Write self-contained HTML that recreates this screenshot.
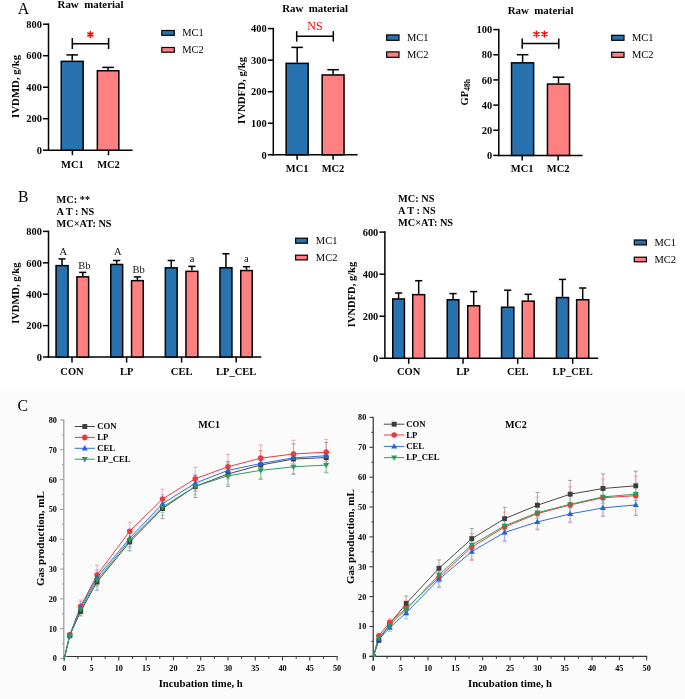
<!DOCTYPE html>
<html><head><meta charset="utf-8"><style>
html,body{margin:0;padding:0;background:#fff;width:685px;height:699px;overflow:hidden}
svg{display:block;will-change:transform;font-family:"Liberation Serif", serif}
</style></head><body>
<svg width="685" height="699" viewBox="0 0 685 699">
<text x="17.80" y="13.90" font-size="15.8" text-anchor="start" fill="#000" >A</text>
<text x="90.50" y="8.00" font-size="10.9" font-weight="bold" text-anchor="middle" fill="#000" >Raw&#160;&#160;material</text>
<line x1="48.50" y1="23.45" x2="48.50" y2="150.95" stroke="#000" stroke-width="1.5" />
<line x1="47.75" y1="150.20" x2="132.60" y2="150.20" stroke="#000" stroke-width="1.5" />
<line x1="43.00" y1="150.20" x2="48.50" y2="150.20" stroke="#000" stroke-width="1.5" />
<text x="41.90" y="153.90" font-size="10.4" font-weight="bold" text-anchor="end" fill="#000" >0</text>
<line x1="43.00" y1="118.70" x2="48.50" y2="118.70" stroke="#000" stroke-width="1.5" />
<text x="41.90" y="122.40" font-size="10.4" font-weight="bold" text-anchor="end" fill="#000" >200</text>
<line x1="43.00" y1="87.20" x2="48.50" y2="87.20" stroke="#000" stroke-width="1.5" />
<text x="41.90" y="90.90" font-size="10.4" font-weight="bold" text-anchor="end" fill="#000" >400</text>
<line x1="43.00" y1="55.70" x2="48.50" y2="55.70" stroke="#000" stroke-width="1.5" />
<text x="41.90" y="59.40" font-size="10.4" font-weight="bold" text-anchor="end" fill="#000" >600</text>
<line x1="43.00" y1="24.20" x2="48.50" y2="24.20" stroke="#000" stroke-width="1.5" />
<text x="41.90" y="27.90" font-size="10.4" font-weight="bold" text-anchor="end" fill="#000" >800</text>
<line x1="72.40" y1="150.20" x2="72.40" y2="155.20" stroke="#000" stroke-width="1.5" />
<line x1="108.50" y1="150.20" x2="108.50" y2="155.20" stroke="#000" stroke-width="1.5" />
<line x1="72.20" y1="60.60" x2="72.20" y2="54.90" stroke="#000" stroke-width="1.5" />
<line x1="66.40" y1="54.90" x2="78.00" y2="54.90" stroke="#000" stroke-width="1.5" />
<rect x="61.25" y="61.35" width="21.90" height="88.85" fill="#2872b0" stroke="#000" stroke-width="1.5"/>
<line x1="108.10" y1="70.00" x2="108.10" y2="67.40" stroke="#000" stroke-width="1.5" />
<line x1="102.30" y1="67.40" x2="113.90" y2="67.40" stroke="#000" stroke-width="1.5" />
<rect x="97.35" y="70.75" width="21.50" height="79.45" fill="#ff8080" stroke="#000" stroke-width="1.5"/>
<text x="72.40" y="167.50" font-size="10.5" font-weight="bold" text-anchor="middle" fill="#000" >MC1</text>
<text x="108.50" y="167.50" font-size="10.5" font-weight="bold" text-anchor="middle" fill="#000" >MC2</text>
<text x="0" y="0" font-size="10.8" font-weight="bold" text-anchor="middle" transform="translate(19.00,86.40) rotate(-90)">IVDMD, g/kg</text>
<line x1="72.30" y1="43.80" x2="108.60" y2="43.80" stroke="#000" stroke-width="1.5" />
<line x1="72.30" y1="38.00" x2="72.30" y2="49.00" stroke="#000" stroke-width="1.5" />
<line x1="108.60" y1="38.00" x2="108.60" y2="49.00" stroke="#000" stroke-width="1.5" />
<path d="M90.40,31.50L90.40,37.50M87.80,33.00L93.00,36.00M93.00,33.00L87.80,36.00" stroke="#ff0000" stroke-width="1.45" stroke-linecap="round" fill="none"/>
<rect x="161.80" y="30.50" width="12.50" height="4.80" fill="#2872b0" stroke="#000" stroke-width="1.2"/>
<text x="182.20" y="36.30" font-size="10.5" text-anchor="start" fill="#000" >MC1</text>
<rect x="161.80" y="47.50" width="12.50" height="4.70" fill="#ff8080" stroke="#000" stroke-width="1.2"/>
<text x="182.20" y="53.20" font-size="10.5" text-anchor="start" fill="#000" >MC2</text>
<text x="315.10" y="12.40" font-size="10.9" font-weight="bold" text-anchor="middle" fill="#000" >Raw&#160;&#160;material</text>
<line x1="273.30" y1="27.85" x2="273.30" y2="155.55" stroke="#000" stroke-width="1.5" />
<line x1="272.55" y1="154.80" x2="357.60" y2="154.80" stroke="#000" stroke-width="1.5" />
<line x1="267.80" y1="154.80" x2="273.30" y2="154.80" stroke="#000" stroke-width="1.5" />
<text x="266.70" y="158.50" font-size="10.4" font-weight="bold" text-anchor="end" fill="#000" >0</text>
<line x1="267.80" y1="123.25" x2="273.30" y2="123.25" stroke="#000" stroke-width="1.5" />
<text x="266.70" y="126.95" font-size="10.4" font-weight="bold" text-anchor="end" fill="#000" >100</text>
<line x1="267.80" y1="91.70" x2="273.30" y2="91.70" stroke="#000" stroke-width="1.5" />
<text x="266.70" y="95.40" font-size="10.4" font-weight="bold" text-anchor="end" fill="#000" >200</text>
<line x1="267.80" y1="60.15" x2="273.30" y2="60.15" stroke="#000" stroke-width="1.5" />
<text x="266.70" y="63.85" font-size="10.4" font-weight="bold" text-anchor="end" fill="#000" >300</text>
<line x1="267.80" y1="28.60" x2="273.30" y2="28.60" stroke="#000" stroke-width="1.5" />
<text x="266.70" y="32.30" font-size="10.4" font-weight="bold" text-anchor="end" fill="#000" >400</text>
<line x1="297.10" y1="154.80" x2="297.10" y2="159.80" stroke="#000" stroke-width="1.5" />
<line x1="333.10" y1="154.80" x2="333.10" y2="159.80" stroke="#000" stroke-width="1.5" />
<line x1="297.15" y1="62.60" x2="297.15" y2="47.40" stroke="#000" stroke-width="1.5" />
<line x1="291.35" y1="47.40" x2="302.95" y2="47.40" stroke="#000" stroke-width="1.5" />
<rect x="286.15" y="63.35" width="22.00" height="91.45" fill="#2872b0" stroke="#000" stroke-width="1.5"/>
<line x1="333.10" y1="74.20" x2="333.10" y2="69.70" stroke="#000" stroke-width="1.5" />
<line x1="327.30" y1="69.70" x2="338.90" y2="69.70" stroke="#000" stroke-width="1.5" />
<rect x="322.15" y="74.95" width="21.90" height="79.85" fill="#ff8080" stroke="#000" stroke-width="1.5"/>
<text x="297.10" y="171.50" font-size="10.5" font-weight="bold" text-anchor="middle" fill="#000" >MC1</text>
<text x="333.00" y="171.50" font-size="10.5" font-weight="bold" text-anchor="middle" fill="#000" >MC2</text>
<text x="0" y="0" font-size="10.8" font-weight="bold" text-anchor="middle" transform="translate(245.00,90.40) rotate(-90)">IVNDFD, g/kg</text>
<line x1="296.70" y1="36.30" x2="333.30" y2="36.30" stroke="#000" stroke-width="1.5" />
<line x1="296.70" y1="31.10" x2="296.70" y2="41.60" stroke="#000" stroke-width="1.5" />
<line x1="333.30" y1="31.10" x2="333.30" y2="41.60" stroke="#000" stroke-width="1.5" />
<text x="315.00" y="30.20" font-size="12" text-anchor="middle" fill="#ff0000" >NS</text>
<rect x="386.70" y="34.90" width="12.30" height="5.40" fill="#2872b0" stroke="#000" stroke-width="1.2"/>
<text x="407.00" y="41.30" font-size="10.5" text-anchor="start" fill="#000" >MC1</text>
<rect x="386.70" y="51.90" width="12.30" height="5.40" fill="#ff8080" stroke="#000" stroke-width="1.2"/>
<text x="407.00" y="58.30" font-size="10.5" text-anchor="start" fill="#000" >MC2</text>
<text x="540.60" y="14.10" font-size="10.9" font-weight="bold" text-anchor="middle" fill="#000" >Raw&#160;&#160;material</text>
<line x1="498.80" y1="28.85" x2="498.80" y2="156.15" stroke="#000" stroke-width="1.5" />
<line x1="498.05" y1="155.40" x2="582.60" y2="155.40" stroke="#000" stroke-width="1.5" />
<line x1="493.30" y1="155.40" x2="498.80" y2="155.40" stroke="#000" stroke-width="1.5" />
<text x="492.20" y="159.10" font-size="10.4" font-weight="bold" text-anchor="end" fill="#000" >0</text>
<line x1="493.30" y1="130.24" x2="498.80" y2="130.24" stroke="#000" stroke-width="1.5" />
<text x="492.20" y="133.94" font-size="10.4" font-weight="bold" text-anchor="end" fill="#000" >20</text>
<line x1="493.30" y1="105.08" x2="498.80" y2="105.08" stroke="#000" stroke-width="1.5" />
<text x="492.20" y="108.78" font-size="10.4" font-weight="bold" text-anchor="end" fill="#000" >40</text>
<line x1="493.30" y1="79.92" x2="498.80" y2="79.92" stroke="#000" stroke-width="1.5" />
<text x="492.20" y="83.62" font-size="10.4" font-weight="bold" text-anchor="end" fill="#000" >60</text>
<line x1="493.30" y1="54.76" x2="498.80" y2="54.76" stroke="#000" stroke-width="1.5" />
<text x="492.20" y="58.46" font-size="10.4" font-weight="bold" text-anchor="end" fill="#000" >80</text>
<line x1="493.30" y1="29.60" x2="498.80" y2="29.60" stroke="#000" stroke-width="1.5" />
<text x="492.20" y="33.30" font-size="10.4" font-weight="bold" text-anchor="end" fill="#000" >100</text>
<line x1="522.20" y1="155.40" x2="522.20" y2="160.40" stroke="#000" stroke-width="1.5" />
<line x1="558.10" y1="155.40" x2="558.10" y2="160.40" stroke="#000" stroke-width="1.5" />
<line x1="522.60" y1="62.10" x2="522.60" y2="54.70" stroke="#000" stroke-width="1.5" />
<line x1="516.80" y1="54.70" x2="528.40" y2="54.70" stroke="#000" stroke-width="1.5" />
<rect x="511.55" y="62.85" width="22.10" height="92.55" fill="#2872b0" stroke="#000" stroke-width="1.5"/>
<line x1="558.50" y1="83.30" x2="558.50" y2="77.20" stroke="#000" stroke-width="1.5" />
<line x1="552.70" y1="77.20" x2="564.30" y2="77.20" stroke="#000" stroke-width="1.5" />
<rect x="547.45" y="84.05" width="22.10" height="71.35" fill="#ff8080" stroke="#000" stroke-width="1.5"/>
<text x="522.20" y="171.50" font-size="10.5" font-weight="bold" text-anchor="middle" fill="#000" >MC1</text>
<text x="558.10" y="171.50" font-size="10.5" font-weight="bold" text-anchor="middle" fill="#000" >MC2</text>
<text x="0" y="0" font-size="10.5" font-weight="bold" text-anchor="middle" transform="translate(468.0,92.3) rotate(-90)">GP<tspan font-size="7.5" dy="2.3">48h</tspan></text>
<line x1="522.20" y1="43.40" x2="558.80" y2="43.40" stroke="#000" stroke-width="1.5" />
<line x1="522.20" y1="38.60" x2="522.20" y2="48.70" stroke="#000" stroke-width="1.5" />
<line x1="558.80" y1="38.60" x2="558.80" y2="48.70" stroke="#000" stroke-width="1.5" />
<path d="M536.40,31.10L536.40,37.10M533.80,32.60L539.00,35.60M539.00,32.60L533.80,35.60" stroke="#ff0000" stroke-width="1.45" stroke-linecap="round" fill="none"/>
<path d="M544.40,31.10L544.40,37.10M541.80,32.60L547.00,35.60M547.00,32.60L541.80,35.60" stroke="#ff0000" stroke-width="1.45" stroke-linecap="round" fill="none"/>
<rect x="611.70" y="35.30" width="12.30" height="5.00" fill="#2872b0" stroke="#000" stroke-width="1.2"/>
<text x="632.00" y="41.30" font-size="10.5" text-anchor="start" fill="#000" >MC1</text>
<rect x="611.70" y="52.30" width="12.30" height="5.00" fill="#ff8080" stroke="#000" stroke-width="1.2"/>
<text x="632.00" y="58.30" font-size="10.5" text-anchor="start" fill="#000" >MC2</text>
<text x="18.00" y="201.60" font-size="15.8" text-anchor="start" fill="#000" >B</text>
<line x1="48.50" y1="230.65" x2="48.50" y2="357.75" stroke="#000" stroke-width="1.5" />
<line x1="47.75" y1="357.00" x2="261.30" y2="357.00" stroke="#000" stroke-width="1.5" />
<line x1="43.00" y1="357.00" x2="48.50" y2="357.00" stroke="#000" stroke-width="1.5" />
<text x="41.90" y="360.70" font-size="10.4" font-weight="bold" text-anchor="end" fill="#000" >0</text>
<line x1="43.00" y1="325.60" x2="48.50" y2="325.60" stroke="#000" stroke-width="1.5" />
<text x="41.90" y="329.30" font-size="10.4" font-weight="bold" text-anchor="end" fill="#000" >200</text>
<line x1="43.00" y1="294.20" x2="48.50" y2="294.20" stroke="#000" stroke-width="1.5" />
<text x="41.90" y="297.90" font-size="10.4" font-weight="bold" text-anchor="end" fill="#000" >400</text>
<line x1="43.00" y1="262.80" x2="48.50" y2="262.80" stroke="#000" stroke-width="1.5" />
<text x="41.90" y="266.50" font-size="10.4" font-weight="bold" text-anchor="end" fill="#000" >600</text>
<line x1="43.00" y1="231.40" x2="48.50" y2="231.40" stroke="#000" stroke-width="1.5" />
<text x="41.90" y="235.10" font-size="10.4" font-weight="bold" text-anchor="end" fill="#000" >800</text>
<line x1="72.00" y1="357.00" x2="72.00" y2="362.50" stroke="#000" stroke-width="1.5" />
<line x1="126.60" y1="357.00" x2="126.60" y2="362.50" stroke="#000" stroke-width="1.5" />
<line x1="181.60" y1="357.00" x2="181.60" y2="362.50" stroke="#000" stroke-width="1.5" />
<line x1="236.20" y1="357.00" x2="236.20" y2="362.50" stroke="#000" stroke-width="1.5" />
<line x1="62.05" y1="264.90" x2="62.05" y2="258.90" stroke="#000" stroke-width="1.5" />
<line x1="58.45" y1="258.90" x2="65.65" y2="258.90" stroke="#000" stroke-width="1.5" />
<rect x="56.05" y="265.65" width="12.00" height="91.35" fill="#2872b0" stroke="#000" stroke-width="1.5"/>
<line x1="82.80" y1="276.10" x2="82.80" y2="272.40" stroke="#000" stroke-width="1.5" />
<line x1="79.20" y1="272.40" x2="86.40" y2="272.40" stroke="#000" stroke-width="1.5" />
<rect x="76.95" y="276.85" width="11.70" height="80.15" fill="#ff8080" stroke="#000" stroke-width="1.5"/>
<line x1="116.70" y1="263.70" x2="116.70" y2="260.50" stroke="#000" stroke-width="1.5" />
<line x1="113.10" y1="260.50" x2="120.30" y2="260.50" stroke="#000" stroke-width="1.5" />
<rect x="110.75" y="264.45" width="11.90" height="92.55" fill="#2872b0" stroke="#000" stroke-width="1.5"/>
<line x1="137.40" y1="279.90" x2="137.40" y2="276.90" stroke="#000" stroke-width="1.5" />
<line x1="133.80" y1="276.90" x2="141.00" y2="276.90" stroke="#000" stroke-width="1.5" />
<rect x="131.55" y="280.65" width="11.70" height="76.35" fill="#ff8080" stroke="#000" stroke-width="1.5"/>
<line x1="171.25" y1="267.10" x2="171.25" y2="260.50" stroke="#000" stroke-width="1.5" />
<line x1="167.65" y1="260.50" x2="174.85" y2="260.50" stroke="#000" stroke-width="1.5" />
<rect x="165.35" y="267.85" width="11.80" height="89.15" fill="#2872b0" stroke="#000" stroke-width="1.5"/>
<line x1="191.90" y1="270.60" x2="191.90" y2="266.40" stroke="#000" stroke-width="1.5" />
<line x1="188.30" y1="266.40" x2="195.50" y2="266.40" stroke="#000" stroke-width="1.5" />
<rect x="185.95" y="271.35" width="11.90" height="85.65" fill="#ff8080" stroke="#000" stroke-width="1.5"/>
<line x1="225.95" y1="267.00" x2="225.95" y2="253.80" stroke="#000" stroke-width="1.5" />
<line x1="222.35" y1="253.80" x2="229.55" y2="253.80" stroke="#000" stroke-width="1.5" />
<rect x="219.95" y="267.75" width="12.00" height="89.25" fill="#2872b0" stroke="#000" stroke-width="1.5"/>
<line x1="246.50" y1="269.80" x2="246.50" y2="266.70" stroke="#000" stroke-width="1.5" />
<line x1="242.90" y1="266.70" x2="250.10" y2="266.70" stroke="#000" stroke-width="1.5" />
<rect x="240.75" y="270.55" width="11.50" height="86.45" fill="#ff8080" stroke="#000" stroke-width="1.5"/>
<text x="72.00" y="374.50" font-size="10.5" font-weight="bold" text-anchor="middle" fill="#000" >CON</text>
<text x="126.60" y="374.50" font-size="10.5" font-weight="bold" text-anchor="middle" fill="#000" >LP</text>
<text x="181.60" y="374.50" font-size="10.5" font-weight="bold" text-anchor="middle" fill="#000" >CEL</text>
<text x="236.20" y="374.50" font-size="10.5" font-weight="bold" text-anchor="middle" fill="#000" >LP_CEL</text>
<text x="56.60" y="202.80" font-size="10.3" font-weight="bold" text-anchor="start" fill="#000" >MC: **</text>
<text x="56.60" y="215.20" font-size="10.3" font-weight="bold" text-anchor="start" fill="#000" >A T : NS</text>
<text x="56.60" y="227.20" font-size="10.3" font-weight="bold" text-anchor="start" fill="#000" >MC×AT: NS</text>
<rect x="295.60" y="238.20" width="11.80" height="5.00" fill="#2872b0" stroke="#000" stroke-width="1.2"/>
<text x="315.80" y="244.20" font-size="10.5" text-anchor="start" fill="#000" >MC1</text>
<rect x="295.60" y="255.20" width="11.80" height="4.70" fill="#ff8080" stroke="#000" stroke-width="1.2"/>
<text x="315.80" y="260.90" font-size="10.5" text-anchor="start" fill="#000" >MC2</text>
<text x="0" y="0" font-size="10.5" font-weight="bold" text-anchor="middle" transform="translate(18.90,293.20) rotate(-90)">IVDMD, g/kg</text>
<text x="63.30" y="255.00" font-size="10.5" text-anchor="middle" fill="#111" >A</text>
<text x="84.30" y="269.40" font-size="10.5" text-anchor="middle" fill="#111" >Bb</text>
<text x="117.90" y="255.00" font-size="10.5" text-anchor="middle" fill="#111" >A</text>
<text x="138.60" y="273.00" font-size="10.5" text-anchor="middle" fill="#111" >Bb</text>
<text x="192.00" y="261.90" font-size="10.5" text-anchor="middle" fill="#111" >a</text>
<text x="246.40" y="261.90" font-size="10.5" text-anchor="middle" fill="#111" >a</text>
<line x1="384.90" y1="231.35" x2="384.90" y2="359.05" stroke="#000" stroke-width="1.5" />
<line x1="384.15" y1="358.30" x2="598.20" y2="358.30" stroke="#000" stroke-width="1.5" />
<line x1="379.40" y1="358.30" x2="384.90" y2="358.30" stroke="#000" stroke-width="1.5" />
<text x="378.30" y="362.00" font-size="10.4" font-weight="bold" text-anchor="end" fill="#000" >0</text>
<line x1="379.40" y1="316.23" x2="384.90" y2="316.23" stroke="#000" stroke-width="1.5" />
<text x="378.30" y="319.93" font-size="10.4" font-weight="bold" text-anchor="end" fill="#000" >200</text>
<line x1="379.40" y1="274.17" x2="384.90" y2="274.17" stroke="#000" stroke-width="1.5" />
<text x="378.30" y="277.87" font-size="10.4" font-weight="bold" text-anchor="end" fill="#000" >400</text>
<line x1="379.40" y1="232.10" x2="384.90" y2="232.10" stroke="#000" stroke-width="1.5" />
<text x="378.30" y="235.80" font-size="10.4" font-weight="bold" text-anchor="end" fill="#000" >600</text>
<line x1="408.70" y1="358.30" x2="408.70" y2="363.80" stroke="#000" stroke-width="1.5" />
<line x1="463.00" y1="358.30" x2="463.00" y2="363.80" stroke="#000" stroke-width="1.5" />
<line x1="517.70" y1="358.30" x2="517.70" y2="363.80" stroke="#000" stroke-width="1.5" />
<line x1="572.70" y1="358.30" x2="572.70" y2="363.80" stroke="#000" stroke-width="1.5" />
<line x1="398.60" y1="298.20" x2="398.60" y2="293.00" stroke="#000" stroke-width="1.5" />
<line x1="395.00" y1="293.00" x2="402.20" y2="293.00" stroke="#000" stroke-width="1.5" />
<rect x="392.75" y="298.95" width="11.70" height="59.35" fill="#2872b0" stroke="#000" stroke-width="1.5"/>
<line x1="418.70" y1="293.90" x2="418.70" y2="280.70" stroke="#000" stroke-width="1.5" />
<line x1="415.10" y1="280.70" x2="422.30" y2="280.70" stroke="#000" stroke-width="1.5" />
<rect x="412.75" y="294.65" width="11.90" height="63.65" fill="#ff8080" stroke="#000" stroke-width="1.5"/>
<line x1="453.05" y1="299.00" x2="453.05" y2="293.60" stroke="#000" stroke-width="1.5" />
<line x1="449.45" y1="293.60" x2="456.65" y2="293.60" stroke="#000" stroke-width="1.5" />
<rect x="447.25" y="299.75" width="11.60" height="58.55" fill="#2872b0" stroke="#000" stroke-width="1.5"/>
<line x1="473.70" y1="305.00" x2="473.70" y2="291.60" stroke="#000" stroke-width="1.5" />
<line x1="470.10" y1="291.60" x2="477.30" y2="291.60" stroke="#000" stroke-width="1.5" />
<rect x="467.75" y="305.75" width="11.90" height="52.55" fill="#ff8080" stroke="#000" stroke-width="1.5"/>
<line x1="507.70" y1="306.50" x2="507.70" y2="290.20" stroke="#000" stroke-width="1.5" />
<line x1="504.10" y1="290.20" x2="511.30" y2="290.20" stroke="#000" stroke-width="1.5" />
<rect x="501.55" y="307.25" width="12.30" height="51.05" fill="#2872b0" stroke="#000" stroke-width="1.5"/>
<line x1="528.20" y1="300.40" x2="528.20" y2="294.30" stroke="#000" stroke-width="1.5" />
<line x1="524.60" y1="294.30" x2="531.80" y2="294.30" stroke="#000" stroke-width="1.5" />
<rect x="522.25" y="301.15" width="11.90" height="57.15" fill="#ff8080" stroke="#000" stroke-width="1.5"/>
<line x1="562.50" y1="296.80" x2="562.50" y2="279.40" stroke="#000" stroke-width="1.5" />
<line x1="558.90" y1="279.40" x2="566.10" y2="279.40" stroke="#000" stroke-width="1.5" />
<rect x="556.45" y="297.55" width="12.10" height="60.75" fill="#2872b0" stroke="#000" stroke-width="1.5"/>
<line x1="582.70" y1="299.00" x2="582.70" y2="288.00" stroke="#000" stroke-width="1.5" />
<line x1="579.10" y1="288.00" x2="586.30" y2="288.00" stroke="#000" stroke-width="1.5" />
<rect x="576.65" y="299.75" width="12.10" height="58.55" fill="#ff8080" stroke="#000" stroke-width="1.5"/>
<text x="408.70" y="375.00" font-size="10.5" font-weight="bold" text-anchor="middle" fill="#000" >CON</text>
<text x="463.00" y="375.00" font-size="10.5" font-weight="bold" text-anchor="middle" fill="#000" >LP</text>
<text x="517.70" y="375.00" font-size="10.5" font-weight="bold" text-anchor="middle" fill="#000" >CEL</text>
<text x="572.70" y="375.00" font-size="10.5" font-weight="bold" text-anchor="middle" fill="#000" >LP_CEL</text>
<text x="398.10" y="202.30" font-size="10.3" font-weight="bold" text-anchor="start" fill="#000" >MC: NS</text>
<text x="398.10" y="213.80" font-size="10.3" font-weight="bold" text-anchor="start" fill="#000" >A T : NS</text>
<text x="398.10" y="226.40" font-size="10.3" font-weight="bold" text-anchor="start" fill="#000" >MC×AT: NS</text>
<rect x="634.30" y="240.00" width="12.10" height="4.90" fill="#2872b0" stroke="#000" stroke-width="1.2"/>
<text x="654.50" y="245.90" font-size="10.5" text-anchor="start" fill="#000" >MC1</text>
<rect x="634.30" y="257.20" width="12.10" height="4.60" fill="#ff8080" stroke="#000" stroke-width="1.2"/>
<text x="654.50" y="262.80" font-size="10.5" text-anchor="start" fill="#000" >MC2</text>
<text x="0" y="0" font-size="10.5" font-weight="bold" text-anchor="middle" transform="translate(354.90,294.50) rotate(-90)">IVNDFD, g/kg</text>
<rect x="0" y="387.6" width="685" height="311.4" fill="#fbfbfb"/>
<text x="17.60" y="411.00" font-size="15.8" text-anchor="start" fill="#000" >C</text>
<line x1="63.80" y1="419.40" x2="63.80" y2="660.80" stroke="#999" stroke-width="1.2" />
<line x1="64.90" y1="656.50" x2="337.60" y2="656.50" stroke="#333" stroke-width="1.1" />
<line x1="60.10" y1="658.50" x2="63.80" y2="658.50" stroke="#999" stroke-width="1.0" />
<text x="56.90" y="661.40" font-size="8.2" font-weight="bold" text-anchor="end" fill="#000" >0</text>
<line x1="62.00" y1="643.59" x2="63.80" y2="643.59" stroke="#999" stroke-width="1.0" />
<line x1="60.10" y1="628.69" x2="63.80" y2="628.69" stroke="#999" stroke-width="1.0" />
<text x="56.90" y="631.59" font-size="8.2" font-weight="bold" text-anchor="end" fill="#000" >10</text>
<line x1="62.00" y1="613.78" x2="63.80" y2="613.78" stroke="#999" stroke-width="1.0" />
<line x1="60.10" y1="598.88" x2="63.80" y2="598.88" stroke="#999" stroke-width="1.0" />
<text x="56.90" y="601.77" font-size="8.2" font-weight="bold" text-anchor="end" fill="#000" >20</text>
<line x1="62.00" y1="583.97" x2="63.80" y2="583.97" stroke="#999" stroke-width="1.0" />
<line x1="60.10" y1="569.06" x2="63.80" y2="569.06" stroke="#999" stroke-width="1.0" />
<text x="56.90" y="571.96" font-size="8.2" font-weight="bold" text-anchor="end" fill="#000" >30</text>
<line x1="62.00" y1="554.16" x2="63.80" y2="554.16" stroke="#999" stroke-width="1.0" />
<line x1="60.10" y1="539.25" x2="63.80" y2="539.25" stroke="#999" stroke-width="1.0" />
<text x="56.90" y="542.15" font-size="8.2" font-weight="bold" text-anchor="end" fill="#000" >40</text>
<line x1="62.00" y1="524.34" x2="63.80" y2="524.34" stroke="#999" stroke-width="1.0" />
<line x1="60.10" y1="509.44" x2="63.80" y2="509.44" stroke="#999" stroke-width="1.0" />
<text x="56.90" y="512.34" font-size="8.2" font-weight="bold" text-anchor="end" fill="#000" >50</text>
<line x1="62.00" y1="494.53" x2="63.80" y2="494.53" stroke="#999" stroke-width="1.0" />
<line x1="60.10" y1="479.62" x2="63.80" y2="479.62" stroke="#999" stroke-width="1.0" />
<text x="56.90" y="482.52" font-size="8.2" font-weight="bold" text-anchor="end" fill="#000" >60</text>
<line x1="62.00" y1="464.72" x2="63.80" y2="464.72" stroke="#999" stroke-width="1.0" />
<line x1="60.10" y1="449.81" x2="63.80" y2="449.81" stroke="#999" stroke-width="1.0" />
<text x="56.90" y="452.71" font-size="8.2" font-weight="bold" text-anchor="end" fill="#000" >70</text>
<line x1="62.00" y1="434.91" x2="63.80" y2="434.91" stroke="#999" stroke-width="1.0" />
<line x1="60.10" y1="420.00" x2="63.80" y2="420.00" stroke="#999" stroke-width="1.0" />
<text x="56.90" y="422.90" font-size="8.2" font-weight="bold" text-anchor="end" fill="#000" >80</text>
<line x1="64.30" y1="656.50" x2="64.30" y2="660.50" stroke="#333" stroke-width="1.0" />
<text x="64.30" y="671.00" font-size="8.2" font-weight="bold" text-anchor="middle" fill="#000" >0</text>
<line x1="77.94" y1="656.50" x2="77.94" y2="658.90" stroke="#333" stroke-width="1.0" />
<line x1="91.58" y1="656.50" x2="91.58" y2="660.50" stroke="#333" stroke-width="1.0" />
<text x="91.58" y="671.00" font-size="8.2" font-weight="bold" text-anchor="middle" fill="#000" >5</text>
<line x1="105.22" y1="656.50" x2="105.22" y2="658.90" stroke="#333" stroke-width="1.0" />
<line x1="118.86" y1="656.50" x2="118.86" y2="660.50" stroke="#333" stroke-width="1.0" />
<text x="118.86" y="671.00" font-size="8.2" font-weight="bold" text-anchor="middle" fill="#000" >10</text>
<line x1="132.50" y1="656.50" x2="132.50" y2="658.90" stroke="#333" stroke-width="1.0" />
<line x1="146.14" y1="656.50" x2="146.14" y2="660.50" stroke="#333" stroke-width="1.0" />
<text x="146.14" y="671.00" font-size="8.2" font-weight="bold" text-anchor="middle" fill="#000" >15</text>
<line x1="159.78" y1="656.50" x2="159.78" y2="658.90" stroke="#333" stroke-width="1.0" />
<line x1="173.42" y1="656.50" x2="173.42" y2="660.50" stroke="#333" stroke-width="1.0" />
<text x="173.42" y="671.00" font-size="8.2" font-weight="bold" text-anchor="middle" fill="#000" >20</text>
<line x1="187.06" y1="656.50" x2="187.06" y2="658.90" stroke="#333" stroke-width="1.0" />
<line x1="200.70" y1="656.50" x2="200.70" y2="660.50" stroke="#333" stroke-width="1.0" />
<text x="200.70" y="671.00" font-size="8.2" font-weight="bold" text-anchor="middle" fill="#000" >25</text>
<line x1="214.34" y1="656.50" x2="214.34" y2="658.90" stroke="#333" stroke-width="1.0" />
<line x1="227.98" y1="656.50" x2="227.98" y2="660.50" stroke="#333" stroke-width="1.0" />
<text x="227.98" y="671.00" font-size="8.2" font-weight="bold" text-anchor="middle" fill="#000" >30</text>
<line x1="241.62" y1="656.50" x2="241.62" y2="658.90" stroke="#333" stroke-width="1.0" />
<line x1="255.26" y1="656.50" x2="255.26" y2="660.50" stroke="#333" stroke-width="1.0" />
<text x="255.26" y="671.00" font-size="8.2" font-weight="bold" text-anchor="middle" fill="#000" >35</text>
<line x1="268.90" y1="656.50" x2="268.90" y2="658.90" stroke="#333" stroke-width="1.0" />
<line x1="282.54" y1="656.50" x2="282.54" y2="660.50" stroke="#333" stroke-width="1.0" />
<text x="282.54" y="671.00" font-size="8.2" font-weight="bold" text-anchor="middle" fill="#000" >40</text>
<line x1="296.18" y1="656.50" x2="296.18" y2="658.90" stroke="#333" stroke-width="1.0" />
<line x1="309.82" y1="656.50" x2="309.82" y2="660.50" stroke="#333" stroke-width="1.0" />
<text x="309.82" y="671.00" font-size="8.2" font-weight="bold" text-anchor="middle" fill="#000" >45</text>
<line x1="323.46" y1="656.50" x2="323.46" y2="658.90" stroke="#333" stroke-width="1.0" />
<line x1="337.10" y1="656.50" x2="337.10" y2="660.50" stroke="#333" stroke-width="1.0" />
<text x="337.10" y="671.00" font-size="8.2" font-weight="bold" text-anchor="middle" fill="#000" >50</text>
<text x="209.10" y="428.10" font-size="10.1" font-weight="bold" text-anchor="middle" fill="#000" >MC1</text>
<text x="200.70" y="686.90" font-size="10.7" font-weight="bold" text-anchor="middle" fill="#000" >Incubation time, h</text>
<text x="0" y="0" font-size="11" font-weight="bold" text-anchor="middle" transform="translate(43.80,538.60) rotate(-90)">Gas production, mL</text>
<line x1="69.76" y1="633.16" x2="69.76" y2="637.93" stroke="#8a8a8a" stroke-width="0.7" />
<line x1="67.76" y1="633.16" x2="71.76" y2="633.16" stroke="#8a8a8a" stroke-width="0.8" />
<line x1="67.76" y1="637.93" x2="71.76" y2="637.93" stroke="#8a8a8a" stroke-width="0.8" />
<line x1="80.67" y1="606.92" x2="80.67" y2="615.87" stroke="#8a8a8a" stroke-width="0.7" />
<line x1="78.67" y1="606.92" x2="82.67" y2="606.92" stroke="#8a8a8a" stroke-width="0.8" />
<line x1="78.67" y1="615.87" x2="82.67" y2="615.87" stroke="#8a8a8a" stroke-width="0.8" />
<line x1="97.04" y1="573.53" x2="97.04" y2="590.23" stroke="#8a8a8a" stroke-width="0.7" />
<line x1="95.04" y1="573.53" x2="99.04" y2="573.53" stroke="#8a8a8a" stroke-width="0.8" />
<line x1="95.04" y1="590.23" x2="99.04" y2="590.23" stroke="#8a8a8a" stroke-width="0.8" />
<line x1="129.77" y1="532.99" x2="129.77" y2="550.88" stroke="#8a8a8a" stroke-width="0.7" />
<line x1="127.77" y1="532.99" x2="131.77" y2="532.99" stroke="#8a8a8a" stroke-width="0.8" />
<line x1="127.77" y1="550.88" x2="131.77" y2="550.88" stroke="#8a8a8a" stroke-width="0.8" />
<line x1="162.51" y1="498.41" x2="162.51" y2="518.68" stroke="#8a8a8a" stroke-width="0.7" />
<line x1="160.51" y1="498.41" x2="164.51" y2="498.41" stroke="#8a8a8a" stroke-width="0.8" />
<line x1="160.51" y1="518.68" x2="164.51" y2="518.68" stroke="#8a8a8a" stroke-width="0.8" />
<line x1="195.24" y1="475.45" x2="195.24" y2="497.51" stroke="#8a8a8a" stroke-width="0.7" />
<line x1="193.24" y1="475.45" x2="197.24" y2="475.45" stroke="#8a8a8a" stroke-width="0.8" />
<line x1="193.24" y1="497.51" x2="197.24" y2="497.51" stroke="#8a8a8a" stroke-width="0.8" />
<line x1="227.98" y1="461.44" x2="227.98" y2="486.48" stroke="#8a8a8a" stroke-width="0.7" />
<line x1="225.98" y1="461.44" x2="229.98" y2="461.44" stroke="#8a8a8a" stroke-width="0.8" />
<line x1="225.98" y1="486.48" x2="229.98" y2="486.48" stroke="#8a8a8a" stroke-width="0.8" />
<line x1="260.72" y1="450.71" x2="260.72" y2="479.33" stroke="#8a8a8a" stroke-width="0.7" />
<line x1="258.72" y1="450.71" x2="262.72" y2="450.71" stroke="#8a8a8a" stroke-width="0.8" />
<line x1="258.72" y1="479.33" x2="262.72" y2="479.33" stroke="#8a8a8a" stroke-width="0.8" />
<line x1="293.45" y1="443.85" x2="293.45" y2="474.26" stroke="#8a8a8a" stroke-width="0.7" />
<line x1="291.45" y1="443.85" x2="295.45" y2="443.85" stroke="#8a8a8a" stroke-width="0.8" />
<line x1="291.45" y1="474.26" x2="295.45" y2="474.26" stroke="#8a8a8a" stroke-width="0.8" />
<line x1="326.19" y1="442.36" x2="326.19" y2="472.77" stroke="#8a8a8a" stroke-width="0.7" />
<line x1="324.19" y1="442.36" x2="328.19" y2="442.36" stroke="#8a8a8a" stroke-width="0.8" />
<line x1="324.19" y1="472.77" x2="328.19" y2="472.77" stroke="#8a8a8a" stroke-width="0.8" />
<line x1="69.76" y1="632.56" x2="69.76" y2="637.33" stroke="#f29090" stroke-width="0.7" />
<line x1="67.76" y1="632.56" x2="71.76" y2="632.56" stroke="#f29090" stroke-width="0.8" />
<line x1="67.76" y1="637.33" x2="71.76" y2="637.33" stroke="#f29090" stroke-width="0.8" />
<line x1="80.67" y1="600.07" x2="80.67" y2="612.59" stroke="#f29090" stroke-width="0.7" />
<line x1="78.67" y1="600.07" x2="82.67" y2="600.07" stroke="#f29090" stroke-width="0.8" />
<line x1="78.67" y1="612.59" x2="82.67" y2="612.59" stroke="#f29090" stroke-width="0.8" />
<line x1="97.04" y1="565.19" x2="97.04" y2="584.86" stroke="#f29090" stroke-width="0.7" />
<line x1="95.04" y1="565.19" x2="99.04" y2="565.19" stroke="#f29090" stroke-width="0.8" />
<line x1="95.04" y1="584.86" x2="99.04" y2="584.86" stroke="#f29090" stroke-width="0.8" />
<line x1="129.77" y1="522.26" x2="129.77" y2="540.14" stroke="#f29090" stroke-width="0.7" />
<line x1="127.77" y1="522.26" x2="131.77" y2="522.26" stroke="#f29090" stroke-width="0.8" />
<line x1="127.77" y1="540.14" x2="131.77" y2="540.14" stroke="#f29090" stroke-width="0.8" />
<line x1="162.51" y1="489.16" x2="162.51" y2="508.84" stroke="#f29090" stroke-width="0.7" />
<line x1="160.51" y1="489.16" x2="164.51" y2="489.16" stroke="#f29090" stroke-width="0.8" />
<line x1="160.51" y1="508.84" x2="164.51" y2="508.84" stroke="#f29090" stroke-width="0.8" />
<line x1="195.24" y1="467.40" x2="195.24" y2="490.06" stroke="#f29090" stroke-width="0.7" />
<line x1="193.24" y1="467.40" x2="197.24" y2="467.40" stroke="#f29090" stroke-width="0.8" />
<line x1="193.24" y1="490.06" x2="197.24" y2="490.06" stroke="#f29090" stroke-width="0.8" />
<line x1="227.98" y1="454.58" x2="227.98" y2="479.03" stroke="#f29090" stroke-width="0.7" />
<line x1="225.98" y1="454.58" x2="229.98" y2="454.58" stroke="#f29090" stroke-width="0.8" />
<line x1="225.98" y1="479.03" x2="229.98" y2="479.03" stroke="#f29090" stroke-width="0.8" />
<line x1="260.72" y1="445.04" x2="260.72" y2="471.28" stroke="#f29090" stroke-width="0.7" />
<line x1="258.72" y1="445.04" x2="262.72" y2="445.04" stroke="#f29090" stroke-width="0.8" />
<line x1="258.72" y1="471.28" x2="262.72" y2="471.28" stroke="#f29090" stroke-width="0.8" />
<line x1="293.45" y1="440.27" x2="293.45" y2="467.70" stroke="#f29090" stroke-width="0.7" />
<line x1="291.45" y1="440.27" x2="295.45" y2="440.27" stroke="#f29090" stroke-width="0.8" />
<line x1="291.45" y1="467.70" x2="295.45" y2="467.70" stroke="#f29090" stroke-width="0.8" />
<line x1="326.19" y1="439.38" x2="326.19" y2="465.02" stroke="#f29090" stroke-width="0.7" />
<line x1="324.19" y1="439.38" x2="328.19" y2="439.38" stroke="#f29090" stroke-width="0.8" />
<line x1="324.19" y1="465.02" x2="328.19" y2="465.02" stroke="#f29090" stroke-width="0.8" />
<line x1="69.76" y1="632.86" x2="69.76" y2="637.63" stroke="#90a8e8" stroke-width="0.7" />
<line x1="67.76" y1="632.86" x2="71.76" y2="632.86" stroke="#90a8e8" stroke-width="0.8" />
<line x1="67.76" y1="637.63" x2="71.76" y2="637.63" stroke="#90a8e8" stroke-width="0.8" />
<line x1="80.67" y1="601.86" x2="80.67" y2="612.59" stroke="#90a8e8" stroke-width="0.7" />
<line x1="78.67" y1="601.86" x2="82.67" y2="601.86" stroke="#90a8e8" stroke-width="0.8" />
<line x1="78.67" y1="612.59" x2="82.67" y2="612.59" stroke="#90a8e8" stroke-width="0.8" />
<line x1="97.04" y1="569.96" x2="97.04" y2="584.86" stroke="#90a8e8" stroke-width="0.7" />
<line x1="95.04" y1="569.96" x2="99.04" y2="569.96" stroke="#90a8e8" stroke-width="0.8" />
<line x1="95.04" y1="584.86" x2="99.04" y2="584.86" stroke="#90a8e8" stroke-width="0.8" />
<line x1="129.77" y1="529.71" x2="129.77" y2="546.40" stroke="#90a8e8" stroke-width="0.7" />
<line x1="127.77" y1="529.71" x2="131.77" y2="529.71" stroke="#90a8e8" stroke-width="0.8" />
<line x1="127.77" y1="546.40" x2="131.77" y2="546.40" stroke="#90a8e8" stroke-width="0.8" />
<line x1="162.51" y1="494.83" x2="162.51" y2="512.72" stroke="#90a8e8" stroke-width="0.7" />
<line x1="160.51" y1="494.83" x2="164.51" y2="494.83" stroke="#90a8e8" stroke-width="0.8" />
<line x1="160.51" y1="512.72" x2="164.51" y2="512.72" stroke="#90a8e8" stroke-width="0.8" />
<line x1="195.24" y1="474.86" x2="195.24" y2="491.55" stroke="#90a8e8" stroke-width="0.7" />
<line x1="193.24" y1="474.86" x2="197.24" y2="474.86" stroke="#90a8e8" stroke-width="0.8" />
<line x1="193.24" y1="491.55" x2="197.24" y2="491.55" stroke="#90a8e8" stroke-width="0.8" />
<line x1="227.98" y1="462.93" x2="227.98" y2="477.84" stroke="#90a8e8" stroke-width="0.7" />
<line x1="225.98" y1="462.93" x2="229.98" y2="462.93" stroke="#90a8e8" stroke-width="0.8" />
<line x1="225.98" y1="477.84" x2="229.98" y2="477.84" stroke="#90a8e8" stroke-width="0.8" />
<line x1="260.72" y1="456.97" x2="260.72" y2="470.08" stroke="#90a8e8" stroke-width="0.7" />
<line x1="258.72" y1="456.97" x2="262.72" y2="456.97" stroke="#90a8e8" stroke-width="0.8" />
<line x1="258.72" y1="470.08" x2="262.72" y2="470.08" stroke="#90a8e8" stroke-width="0.8" />
<line x1="293.45" y1="451.90" x2="293.45" y2="463.82" stroke="#90a8e8" stroke-width="0.7" />
<line x1="291.45" y1="451.90" x2="295.45" y2="451.90" stroke="#90a8e8" stroke-width="0.8" />
<line x1="291.45" y1="463.82" x2="295.45" y2="463.82" stroke="#90a8e8" stroke-width="0.8" />
<line x1="326.19" y1="449.81" x2="326.19" y2="461.74" stroke="#90a8e8" stroke-width="0.7" />
<line x1="324.19" y1="449.81" x2="328.19" y2="449.81" stroke="#90a8e8" stroke-width="0.8" />
<line x1="324.19" y1="461.74" x2="328.19" y2="461.74" stroke="#90a8e8" stroke-width="0.8" />
<line x1="69.76" y1="633.76" x2="69.76" y2="637.93" stroke="#90c8a8" stroke-width="0.7" />
<line x1="67.76" y1="633.76" x2="71.76" y2="633.76" stroke="#90c8a8" stroke-width="0.8" />
<line x1="67.76" y1="637.93" x2="71.76" y2="637.93" stroke="#90c8a8" stroke-width="0.8" />
<line x1="80.67" y1="604.84" x2="80.67" y2="613.78" stroke="#90c8a8" stroke-width="0.7" />
<line x1="78.67" y1="604.84" x2="82.67" y2="604.84" stroke="#90c8a8" stroke-width="0.8" />
<line x1="78.67" y1="613.78" x2="82.67" y2="613.78" stroke="#90c8a8" stroke-width="0.8" />
<line x1="97.04" y1="573.24" x2="97.04" y2="586.95" stroke="#90c8a8" stroke-width="0.7" />
<line x1="95.04" y1="573.24" x2="99.04" y2="573.24" stroke="#90c8a8" stroke-width="0.8" />
<line x1="95.04" y1="586.95" x2="99.04" y2="586.95" stroke="#90c8a8" stroke-width="0.8" />
<line x1="129.77" y1="532.39" x2="129.77" y2="547.90" stroke="#90c8a8" stroke-width="0.7" />
<line x1="127.77" y1="532.39" x2="131.77" y2="532.39" stroke="#90c8a8" stroke-width="0.8" />
<line x1="127.77" y1="547.90" x2="131.77" y2="547.90" stroke="#90c8a8" stroke-width="0.8" />
<line x1="162.51" y1="498.71" x2="162.51" y2="515.40" stroke="#90c8a8" stroke-width="0.7" />
<line x1="160.51" y1="498.71" x2="164.51" y2="498.71" stroke="#90c8a8" stroke-width="0.8" />
<line x1="160.51" y1="515.40" x2="164.51" y2="515.40" stroke="#90c8a8" stroke-width="0.8" />
<line x1="195.24" y1="478.13" x2="195.24" y2="494.83" stroke="#90c8a8" stroke-width="0.7" />
<line x1="193.24" y1="478.13" x2="197.24" y2="478.13" stroke="#90c8a8" stroke-width="0.8" />
<line x1="193.24" y1="494.83" x2="197.24" y2="494.83" stroke="#90c8a8" stroke-width="0.8" />
<line x1="227.98" y1="466.81" x2="227.98" y2="484.69" stroke="#90c8a8" stroke-width="0.7" />
<line x1="225.98" y1="466.81" x2="229.98" y2="466.81" stroke="#90c8a8" stroke-width="0.8" />
<line x1="225.98" y1="484.69" x2="229.98" y2="484.69" stroke="#90c8a8" stroke-width="0.8" />
<line x1="260.72" y1="462.63" x2="260.72" y2="478.13" stroke="#90c8a8" stroke-width="0.7" />
<line x1="258.72" y1="462.63" x2="262.72" y2="462.63" stroke="#90c8a8" stroke-width="0.8" />
<line x1="258.72" y1="478.13" x2="262.72" y2="478.13" stroke="#90c8a8" stroke-width="0.8" />
<line x1="293.45" y1="460.25" x2="293.45" y2="473.36" stroke="#90c8a8" stroke-width="0.7" />
<line x1="291.45" y1="460.25" x2="295.45" y2="460.25" stroke="#90c8a8" stroke-width="0.8" />
<line x1="291.45" y1="473.36" x2="295.45" y2="473.36" stroke="#90c8a8" stroke-width="0.8" />
<line x1="326.19" y1="457.86" x2="326.19" y2="472.17" stroke="#90c8a8" stroke-width="0.7" />
<line x1="324.19" y1="457.86" x2="328.19" y2="457.86" stroke="#90c8a8" stroke-width="0.8" />
<line x1="324.19" y1="472.17" x2="328.19" y2="472.17" stroke="#90c8a8" stroke-width="0.8" />
<polyline points="64.30,658.50 69.76,635.54 80.67,611.40 97.04,581.88 129.77,541.93 162.51,508.54 195.24,486.48 227.98,473.96 260.72,465.02 293.45,459.05 326.19,457.56" fill="none" stroke="#4a4a4a" stroke-width="1.0"/>
<polyline points="64.30,658.50 69.76,634.95 80.67,606.33 97.04,575.02 129.77,531.20 162.51,499.00 195.24,478.73 227.98,466.81 260.72,458.16 293.45,453.99 326.19,452.20" fill="none" stroke="#ee3b3b" stroke-width="1.0"/>
<polyline points="64.30,658.50 69.76,635.25 80.67,607.22 97.04,577.41 129.77,538.06 162.51,503.77 195.24,483.20 227.98,470.38 260.72,463.53 293.45,457.86 326.19,455.77" fill="none" stroke="#2f6ee0" stroke-width="1.0"/>
<polyline points="64.30,658.50 69.76,635.84 80.67,609.31 97.04,580.09 129.77,540.14 162.51,507.05 195.24,486.48 227.98,475.75 260.72,470.38 293.45,466.81 326.19,465.02" fill="none" stroke="#2fa060" stroke-width="1.0"/>
<clipPath id="clip63"><rect x="63.60" y="414.04" width="282.80" height="243.06"/></clipPath>
<g clip-path="url(#clip63)">
<rect x="61.85" y="656.05" width="4.9" height="4.9" fill="#3d3d3d"/>
<rect x="67.31" y="633.09" width="4.9" height="4.9" fill="#3d3d3d"/>
<rect x="78.22" y="608.95" width="4.9" height="4.9" fill="#3d3d3d"/>
<rect x="94.59" y="579.43" width="4.9" height="4.9" fill="#3d3d3d"/>
<rect x="127.32" y="539.48" width="4.9" height="4.9" fill="#3d3d3d"/>
<rect x="160.06" y="506.09" width="4.9" height="4.9" fill="#3d3d3d"/>
<rect x="192.79" y="484.03" width="4.9" height="4.9" fill="#3d3d3d"/>
<rect x="225.53" y="471.51" width="4.9" height="4.9" fill="#3d3d3d"/>
<rect x="258.27" y="462.57" width="4.9" height="4.9" fill="#3d3d3d"/>
<rect x="291.00" y="456.60" width="4.9" height="4.9" fill="#3d3d3d"/>
<rect x="323.74" y="455.11" width="4.9" height="4.9" fill="#3d3d3d"/>
<circle cx="64.30" cy="658.50" r="2.8" fill="#ee3a3a"/>
<circle cx="69.76" cy="634.95" r="2.8" fill="#ee3a3a"/>
<circle cx="80.67" cy="606.33" r="2.8" fill="#ee3a3a"/>
<circle cx="97.04" cy="575.02" r="2.8" fill="#ee3a3a"/>
<circle cx="129.77" cy="531.20" r="2.8" fill="#ee3a3a"/>
<circle cx="162.51" cy="499.00" r="2.8" fill="#ee3a3a"/>
<circle cx="195.24" cy="478.73" r="2.8" fill="#ee3a3a"/>
<circle cx="227.98" cy="466.81" r="2.8" fill="#ee3a3a"/>
<circle cx="260.72" cy="458.16" r="2.8" fill="#ee3a3a"/>
<circle cx="293.45" cy="453.99" r="2.8" fill="#ee3a3a"/>
<circle cx="326.19" cy="452.20" r="2.8" fill="#ee3a3a"/>
<path d="M64.30,655.30 L67.30,660.60 L61.30,660.60 Z" fill="#2563d8"/>
<path d="M69.76,632.05 L72.76,637.35 L66.76,637.35 Z" fill="#2563d8"/>
<path d="M80.67,604.02 L83.67,609.32 L77.67,609.32 Z" fill="#2563d8"/>
<path d="M97.04,574.21 L100.04,579.51 L94.04,579.51 Z" fill="#2563d8"/>
<path d="M129.77,534.86 L132.77,540.16 L126.77,540.16 Z" fill="#2563d8"/>
<path d="M162.51,500.57 L165.51,505.87 L159.51,505.87 Z" fill="#2563d8"/>
<path d="M195.24,480.00 L198.24,485.30 L192.24,485.30 Z" fill="#2563d8"/>
<path d="M227.98,467.18 L230.98,472.48 L224.98,472.48 Z" fill="#2563d8"/>
<path d="M260.72,460.33 L263.72,465.63 L257.72,465.63 Z" fill="#2563d8"/>
<path d="M293.45,454.66 L296.45,459.96 L290.45,459.96 Z" fill="#2563d8"/>
<path d="M326.19,452.57 L329.19,457.88 L323.19,457.88 Z" fill="#2563d8"/>
<path d="M64.30,661.70 L67.30,656.40 L61.30,656.40 Z" fill="#2a9a5a"/>
<path d="M69.76,639.04 L72.76,633.74 L66.76,633.74 Z" fill="#2a9a5a"/>
<path d="M80.67,612.51 L83.67,607.21 L77.67,607.21 Z" fill="#2a9a5a"/>
<path d="M97.04,583.29 L100.04,577.99 L94.04,577.99 Z" fill="#2a9a5a"/>
<path d="M129.77,543.34 L132.77,538.04 L126.77,538.04 Z" fill="#2a9a5a"/>
<path d="M162.51,510.25 L165.51,504.95 L159.51,504.95 Z" fill="#2a9a5a"/>
<path d="M195.24,489.68 L198.24,484.38 L192.24,484.38 Z" fill="#2a9a5a"/>
<path d="M227.98,478.95 L230.98,473.65 L224.98,473.65 Z" fill="#2a9a5a"/>
<path d="M260.72,473.58 L263.72,468.28 L257.72,468.28 Z" fill="#2a9a5a"/>
<path d="M293.45,470.01 L296.45,464.71 L290.45,464.71 Z" fill="#2a9a5a"/>
<path d="M326.19,468.22 L329.19,462.92 L323.19,462.92 Z" fill="#2a9a5a"/>
</g>
<line x1="74.70" y1="426.50" x2="94.90" y2="426.50" stroke="#4a4a4a" stroke-width="1.0" />
<rect x="82.35" y="424.05" width="4.9" height="4.9" fill="#3d3d3d"/>
<text x="97.30" y="429.20" font-size="8.7" font-weight="bold" text-anchor="start" fill="#000" >CON</text>
<line x1="74.70" y1="437.40" x2="94.90" y2="437.40" stroke="#ee3b3b" stroke-width="1.0" />
<circle cx="84.80" cy="437.40" r="2.8" fill="#ee3a3a"/>
<text x="97.30" y="440.10" font-size="8.7" font-weight="bold" text-anchor="start" fill="#000" >LP</text>
<line x1="74.70" y1="448.30" x2="94.90" y2="448.30" stroke="#2f6ee0" stroke-width="1.0" />
<path d="M84.80,445.10 L87.80,450.40 L81.80,450.40 Z" fill="#2563d8"/>
<text x="97.30" y="451.00" font-size="8.7" font-weight="bold" text-anchor="start" fill="#000" >CEL</text>
<line x1="74.70" y1="459.20" x2="94.90" y2="459.20" stroke="#2fa060" stroke-width="1.0" />
<path d="M84.80,462.40 L87.80,457.10 L81.80,457.10 Z" fill="#2a9a5a"/>
<text x="97.30" y="461.90" font-size="8.7" font-weight="bold" text-anchor="start" fill="#000" >LP_CEL</text>
<line x1="373.20" y1="416.80" x2="373.20" y2="660.70" stroke="#333" stroke-width="1.2" />
<line x1="369.20" y1="656.40" x2="647.20" y2="656.40" stroke="#333" stroke-width="1.1" />
<line x1="369.50" y1="656.40" x2="373.20" y2="656.40" stroke="#333" stroke-width="1.0" />
<text x="366.30" y="659.30" font-size="8.2" font-weight="bold" text-anchor="end" fill="#000" >0</text>
<line x1="371.40" y1="641.46" x2="373.20" y2="641.46" stroke="#333" stroke-width="1.0" />
<line x1="369.50" y1="626.52" x2="373.20" y2="626.52" stroke="#333" stroke-width="1.0" />
<text x="366.30" y="629.42" font-size="8.2" font-weight="bold" text-anchor="end" fill="#000" >10</text>
<line x1="371.40" y1="611.59" x2="373.20" y2="611.59" stroke="#333" stroke-width="1.0" />
<line x1="369.50" y1="596.65" x2="373.20" y2="596.65" stroke="#333" stroke-width="1.0" />
<text x="366.30" y="599.55" font-size="8.2" font-weight="bold" text-anchor="end" fill="#000" >20</text>
<line x1="371.40" y1="581.71" x2="373.20" y2="581.71" stroke="#333" stroke-width="1.0" />
<line x1="369.50" y1="566.77" x2="373.20" y2="566.77" stroke="#333" stroke-width="1.0" />
<text x="366.30" y="569.67" font-size="8.2" font-weight="bold" text-anchor="end" fill="#000" >30</text>
<line x1="371.40" y1="551.84" x2="373.20" y2="551.84" stroke="#333" stroke-width="1.0" />
<line x1="369.50" y1="536.90" x2="373.20" y2="536.90" stroke="#333" stroke-width="1.0" />
<text x="366.30" y="539.80" font-size="8.2" font-weight="bold" text-anchor="end" fill="#000" >40</text>
<line x1="371.40" y1="521.96" x2="373.20" y2="521.96" stroke="#333" stroke-width="1.0" />
<line x1="369.50" y1="507.02" x2="373.20" y2="507.02" stroke="#333" stroke-width="1.0" />
<text x="366.30" y="509.92" font-size="8.2" font-weight="bold" text-anchor="end" fill="#000" >50</text>
<line x1="371.40" y1="492.09" x2="373.20" y2="492.09" stroke="#333" stroke-width="1.0" />
<line x1="369.50" y1="477.15" x2="373.20" y2="477.15" stroke="#333" stroke-width="1.0" />
<text x="366.30" y="480.05" font-size="8.2" font-weight="bold" text-anchor="end" fill="#000" >60</text>
<line x1="371.40" y1="462.21" x2="373.20" y2="462.21" stroke="#333" stroke-width="1.0" />
<line x1="369.50" y1="447.27" x2="373.20" y2="447.27" stroke="#333" stroke-width="1.0" />
<text x="366.30" y="450.17" font-size="8.2" font-weight="bold" text-anchor="end" fill="#000" >70</text>
<line x1="371.40" y1="432.34" x2="373.20" y2="432.34" stroke="#333" stroke-width="1.0" />
<line x1="369.50" y1="417.40" x2="373.20" y2="417.40" stroke="#333" stroke-width="1.0" />
<text x="366.30" y="420.30" font-size="8.2" font-weight="bold" text-anchor="end" fill="#000" >80</text>
<line x1="373.40" y1="656.40" x2="373.40" y2="660.40" stroke="#333" stroke-width="1.0" />
<text x="373.40" y="670.90" font-size="8.2" font-weight="bold" text-anchor="middle" fill="#000" >0</text>
<line x1="387.06" y1="656.40" x2="387.06" y2="658.80" stroke="#333" stroke-width="1.0" />
<line x1="400.73" y1="656.40" x2="400.73" y2="660.40" stroke="#333" stroke-width="1.0" />
<text x="400.73" y="670.90" font-size="8.2" font-weight="bold" text-anchor="middle" fill="#000" >5</text>
<line x1="414.39" y1="656.40" x2="414.39" y2="658.80" stroke="#333" stroke-width="1.0" />
<line x1="428.06" y1="656.40" x2="428.06" y2="660.40" stroke="#333" stroke-width="1.0" />
<text x="428.06" y="670.90" font-size="8.2" font-weight="bold" text-anchor="middle" fill="#000" >10</text>
<line x1="441.73" y1="656.40" x2="441.73" y2="658.80" stroke="#333" stroke-width="1.0" />
<line x1="455.39" y1="656.40" x2="455.39" y2="660.40" stroke="#333" stroke-width="1.0" />
<text x="455.39" y="670.90" font-size="8.2" font-weight="bold" text-anchor="middle" fill="#000" >15</text>
<line x1="469.06" y1="656.40" x2="469.06" y2="658.80" stroke="#333" stroke-width="1.0" />
<line x1="482.72" y1="656.40" x2="482.72" y2="660.40" stroke="#333" stroke-width="1.0" />
<text x="482.72" y="670.90" font-size="8.2" font-weight="bold" text-anchor="middle" fill="#000" >20</text>
<line x1="496.38" y1="656.40" x2="496.38" y2="658.80" stroke="#333" stroke-width="1.0" />
<line x1="510.05" y1="656.40" x2="510.05" y2="660.40" stroke="#333" stroke-width="1.0" />
<text x="510.05" y="670.90" font-size="8.2" font-weight="bold" text-anchor="middle" fill="#000" >25</text>
<line x1="523.72" y1="656.40" x2="523.72" y2="658.80" stroke="#333" stroke-width="1.0" />
<line x1="537.38" y1="656.40" x2="537.38" y2="660.40" stroke="#333" stroke-width="1.0" />
<text x="537.38" y="670.90" font-size="8.2" font-weight="bold" text-anchor="middle" fill="#000" >30</text>
<line x1="551.05" y1="656.40" x2="551.05" y2="658.80" stroke="#333" stroke-width="1.0" />
<line x1="564.71" y1="656.40" x2="564.71" y2="660.40" stroke="#333" stroke-width="1.0" />
<text x="564.71" y="670.90" font-size="8.2" font-weight="bold" text-anchor="middle" fill="#000" >35</text>
<line x1="578.38" y1="656.40" x2="578.38" y2="658.80" stroke="#333" stroke-width="1.0" />
<line x1="592.04" y1="656.40" x2="592.04" y2="660.40" stroke="#333" stroke-width="1.0" />
<text x="592.04" y="670.90" font-size="8.2" font-weight="bold" text-anchor="middle" fill="#000" >40</text>
<line x1="605.71" y1="656.40" x2="605.71" y2="658.80" stroke="#333" stroke-width="1.0" />
<line x1="619.37" y1="656.40" x2="619.37" y2="660.40" stroke="#333" stroke-width="1.0" />
<text x="619.37" y="670.90" font-size="8.2" font-weight="bold" text-anchor="middle" fill="#000" >45</text>
<line x1="633.04" y1="656.40" x2="633.04" y2="658.80" stroke="#333" stroke-width="1.0" />
<line x1="646.70" y1="656.40" x2="646.70" y2="660.40" stroke="#333" stroke-width="1.0" />
<text x="646.70" y="670.90" font-size="8.2" font-weight="bold" text-anchor="middle" fill="#000" >50</text>
<text x="515.90" y="428.20" font-size="10.1" font-weight="bold" text-anchor="middle" fill="#000" >MC2</text>
<text x="510.00" y="686.90" font-size="10.7" font-weight="bold" text-anchor="middle" fill="#000" >Incubation time, h</text>
<text x="0" y="0" font-size="11" font-weight="bold" text-anchor="middle" transform="translate(353.50,536.70) rotate(-90)">Gas production, mL</text>
<line x1="378.87" y1="637.88" x2="378.87" y2="642.66" stroke="#8a8a8a" stroke-width="0.7" />
<line x1="376.87" y1="637.88" x2="380.87" y2="637.88" stroke="#8a8a8a" stroke-width="0.8" />
<line x1="376.87" y1="642.66" x2="380.87" y2="642.66" stroke="#8a8a8a" stroke-width="0.8" />
<line x1="389.80" y1="620.85" x2="389.80" y2="626.82" stroke="#8a8a8a" stroke-width="0.7" />
<line x1="387.80" y1="620.85" x2="391.80" y2="620.85" stroke="#8a8a8a" stroke-width="0.8" />
<line x1="387.80" y1="626.82" x2="391.80" y2="626.82" stroke="#8a8a8a" stroke-width="0.8" />
<line x1="406.20" y1="596.05" x2="406.20" y2="610.99" stroke="#8a8a8a" stroke-width="0.7" />
<line x1="404.20" y1="596.05" x2="408.20" y2="596.05" stroke="#8a8a8a" stroke-width="0.8" />
<line x1="404.20" y1="610.99" x2="408.20" y2="610.99" stroke="#8a8a8a" stroke-width="0.8" />
<line x1="438.99" y1="559.90" x2="438.99" y2="576.63" stroke="#8a8a8a" stroke-width="0.7" />
<line x1="436.99" y1="559.90" x2="440.99" y2="559.90" stroke="#8a8a8a" stroke-width="0.8" />
<line x1="436.99" y1="576.63" x2="440.99" y2="576.63" stroke="#8a8a8a" stroke-width="0.8" />
<line x1="471.79" y1="528.53" x2="471.79" y2="548.85" stroke="#8a8a8a" stroke-width="0.7" />
<line x1="469.79" y1="528.53" x2="473.79" y2="528.53" stroke="#8a8a8a" stroke-width="0.8" />
<line x1="469.79" y1="548.85" x2="473.79" y2="548.85" stroke="#8a8a8a" stroke-width="0.8" />
<line x1="504.58" y1="507.32" x2="504.58" y2="530.03" stroke="#8a8a8a" stroke-width="0.7" />
<line x1="502.58" y1="507.32" x2="506.58" y2="507.32" stroke="#8a8a8a" stroke-width="0.8" />
<line x1="502.58" y1="530.03" x2="506.58" y2="530.03" stroke="#8a8a8a" stroke-width="0.8" />
<line x1="537.38" y1="492.39" x2="537.38" y2="518.08" stroke="#8a8a8a" stroke-width="0.7" />
<line x1="535.38" y1="492.39" x2="539.38" y2="492.39" stroke="#8a8a8a" stroke-width="0.8" />
<line x1="535.38" y1="518.08" x2="539.38" y2="518.08" stroke="#8a8a8a" stroke-width="0.8" />
<line x1="570.18" y1="480.44" x2="570.18" y2="507.92" stroke="#8a8a8a" stroke-width="0.7" />
<line x1="568.18" y1="480.44" x2="572.18" y2="480.44" stroke="#8a8a8a" stroke-width="0.8" />
<line x1="568.18" y1="507.92" x2="572.18" y2="507.92" stroke="#8a8a8a" stroke-width="0.8" />
<line x1="602.97" y1="473.86" x2="602.97" y2="503.14" stroke="#8a8a8a" stroke-width="0.7" />
<line x1="600.97" y1="473.86" x2="604.97" y2="473.86" stroke="#8a8a8a" stroke-width="0.8" />
<line x1="600.97" y1="503.14" x2="604.97" y2="503.14" stroke="#8a8a8a" stroke-width="0.8" />
<line x1="635.77" y1="471.17" x2="635.77" y2="500.45" stroke="#8a8a8a" stroke-width="0.7" />
<line x1="633.77" y1="471.17" x2="637.77" y2="471.17" stroke="#8a8a8a" stroke-width="0.8" />
<line x1="633.77" y1="500.45" x2="637.77" y2="500.45" stroke="#8a8a8a" stroke-width="0.8" />
<line x1="378.87" y1="633.40" x2="378.87" y2="638.18" stroke="#f29090" stroke-width="0.7" />
<line x1="376.87" y1="633.40" x2="380.87" y2="633.40" stroke="#f29090" stroke-width="0.8" />
<line x1="376.87" y1="638.18" x2="380.87" y2="638.18" stroke="#f29090" stroke-width="0.8" />
<line x1="389.80" y1="618.76" x2="389.80" y2="625.93" stroke="#f29090" stroke-width="0.7" />
<line x1="387.80" y1="618.76" x2="391.80" y2="618.76" stroke="#f29090" stroke-width="0.8" />
<line x1="387.80" y1="625.93" x2="391.80" y2="625.93" stroke="#f29090" stroke-width="0.8" />
<line x1="406.20" y1="600.83" x2="406.20" y2="615.77" stroke="#f29090" stroke-width="0.7" />
<line x1="404.20" y1="600.83" x2="408.20" y2="600.83" stroke="#f29090" stroke-width="0.8" />
<line x1="404.20" y1="615.77" x2="408.20" y2="615.77" stroke="#f29090" stroke-width="0.8" />
<line x1="438.99" y1="566.77" x2="438.99" y2="587.69" stroke="#f29090" stroke-width="0.7" />
<line x1="436.99" y1="566.77" x2="440.99" y2="566.77" stroke="#f29090" stroke-width="0.8" />
<line x1="436.99" y1="587.69" x2="440.99" y2="587.69" stroke="#f29090" stroke-width="0.8" />
<line x1="471.79" y1="533.61" x2="471.79" y2="560.50" stroke="#f29090" stroke-width="0.7" />
<line x1="469.79" y1="533.61" x2="473.79" y2="533.61" stroke="#f29090" stroke-width="0.8" />
<line x1="469.79" y1="560.50" x2="473.79" y2="560.50" stroke="#f29090" stroke-width="0.8" />
<line x1="504.58" y1="512.10" x2="504.58" y2="541.98" stroke="#f29090" stroke-width="0.7" />
<line x1="502.58" y1="512.10" x2="506.58" y2="512.10" stroke="#f29090" stroke-width="0.8" />
<line x1="502.58" y1="541.98" x2="506.58" y2="541.98" stroke="#f29090" stroke-width="0.8" />
<line x1="537.38" y1="497.17" x2="537.38" y2="530.03" stroke="#f29090" stroke-width="0.7" />
<line x1="535.38" y1="497.17" x2="539.38" y2="497.17" stroke="#f29090" stroke-width="0.8" />
<line x1="535.38" y1="530.03" x2="539.38" y2="530.03" stroke="#f29090" stroke-width="0.8" />
<line x1="570.18" y1="487.01" x2="570.18" y2="522.86" stroke="#f29090" stroke-width="0.7" />
<line x1="568.18" y1="487.01" x2="572.18" y2="487.01" stroke="#f29090" stroke-width="0.8" />
<line x1="568.18" y1="522.86" x2="572.18" y2="522.86" stroke="#f29090" stroke-width="0.8" />
<line x1="602.97" y1="478.94" x2="602.97" y2="516.59" stroke="#f29090" stroke-width="0.7" />
<line x1="600.97" y1="478.94" x2="604.97" y2="478.94" stroke="#f29090" stroke-width="0.8" />
<line x1="600.97" y1="516.59" x2="604.97" y2="516.59" stroke="#f29090" stroke-width="0.8" />
<line x1="635.77" y1="476.25" x2="635.77" y2="515.09" stroke="#f29090" stroke-width="0.7" />
<line x1="633.77" y1="476.25" x2="637.77" y2="476.25" stroke="#f29090" stroke-width="0.8" />
<line x1="633.77" y1="515.09" x2="637.77" y2="515.09" stroke="#f29090" stroke-width="0.8" />
<line x1="378.87" y1="636.68" x2="378.87" y2="641.46" stroke="#90a8e8" stroke-width="0.7" />
<line x1="376.87" y1="636.68" x2="380.87" y2="636.68" stroke="#90a8e8" stroke-width="0.8" />
<line x1="376.87" y1="641.46" x2="380.87" y2="641.46" stroke="#90a8e8" stroke-width="0.8" />
<line x1="389.80" y1="624.13" x2="389.80" y2="631.30" stroke="#90a8e8" stroke-width="0.7" />
<line x1="387.80" y1="624.13" x2="391.80" y2="624.13" stroke="#90a8e8" stroke-width="0.8" />
<line x1="387.80" y1="631.30" x2="391.80" y2="631.30" stroke="#90a8e8" stroke-width="0.8" />
<line x1="406.20" y1="606.81" x2="406.20" y2="618.76" stroke="#90a8e8" stroke-width="0.7" />
<line x1="404.20" y1="606.81" x2="408.20" y2="606.81" stroke="#90a8e8" stroke-width="0.8" />
<line x1="404.20" y1="618.76" x2="408.20" y2="618.76" stroke="#90a8e8" stroke-width="0.8" />
<line x1="438.99" y1="571.85" x2="438.99" y2="586.79" stroke="#90a8e8" stroke-width="0.7" />
<line x1="436.99" y1="571.85" x2="440.99" y2="571.85" stroke="#90a8e8" stroke-width="0.8" />
<line x1="436.99" y1="586.79" x2="440.99" y2="586.79" stroke="#90a8e8" stroke-width="0.8" />
<line x1="471.79" y1="543.47" x2="471.79" y2="559.61" stroke="#90a8e8" stroke-width="0.7" />
<line x1="469.79" y1="543.47" x2="473.79" y2="543.47" stroke="#90a8e8" stroke-width="0.8" />
<line x1="469.79" y1="559.61" x2="473.79" y2="559.61" stroke="#90a8e8" stroke-width="0.8" />
<line x1="504.58" y1="524.35" x2="504.58" y2="540.49" stroke="#90a8e8" stroke-width="0.7" />
<line x1="502.58" y1="524.35" x2="506.58" y2="524.35" stroke="#90a8e8" stroke-width="0.8" />
<line x1="502.58" y1="540.49" x2="506.58" y2="540.49" stroke="#90a8e8" stroke-width="0.8" />
<line x1="537.38" y1="514.79" x2="537.38" y2="529.13" stroke="#90a8e8" stroke-width="0.7" />
<line x1="535.38" y1="514.79" x2="539.38" y2="514.79" stroke="#90a8e8" stroke-width="0.8" />
<line x1="535.38" y1="529.13" x2="539.38" y2="529.13" stroke="#90a8e8" stroke-width="0.8" />
<line x1="570.18" y1="505.83" x2="570.18" y2="521.96" stroke="#90a8e8" stroke-width="0.7" />
<line x1="568.18" y1="505.83" x2="572.18" y2="505.83" stroke="#90a8e8" stroke-width="0.8" />
<line x1="568.18" y1="521.96" x2="572.18" y2="521.96" stroke="#90a8e8" stroke-width="0.8" />
<line x1="602.97" y1="499.85" x2="602.97" y2="515.99" stroke="#90a8e8" stroke-width="0.7" />
<line x1="600.97" y1="499.85" x2="604.97" y2="499.85" stroke="#90a8e8" stroke-width="0.8" />
<line x1="600.97" y1="515.99" x2="604.97" y2="515.99" stroke="#90a8e8" stroke-width="0.8" />
<line x1="635.77" y1="494.48" x2="635.77" y2="515.39" stroke="#90a8e8" stroke-width="0.7" />
<line x1="633.77" y1="494.48" x2="637.77" y2="494.48" stroke="#90a8e8" stroke-width="0.8" />
<line x1="633.77" y1="515.39" x2="637.77" y2="515.39" stroke="#90a8e8" stroke-width="0.8" />
<line x1="378.87" y1="635.19" x2="378.87" y2="639.97" stroke="#90c8a8" stroke-width="0.7" />
<line x1="376.87" y1="635.19" x2="380.87" y2="635.19" stroke="#90c8a8" stroke-width="0.8" />
<line x1="376.87" y1="639.97" x2="380.87" y2="639.97" stroke="#90c8a8" stroke-width="0.8" />
<line x1="389.80" y1="622.04" x2="389.80" y2="628.02" stroke="#90c8a8" stroke-width="0.7" />
<line x1="387.80" y1="622.04" x2="391.80" y2="622.04" stroke="#90c8a8" stroke-width="0.8" />
<line x1="387.80" y1="628.02" x2="391.80" y2="628.02" stroke="#90c8a8" stroke-width="0.8" />
<line x1="406.20" y1="603.52" x2="406.20" y2="615.47" stroke="#90c8a8" stroke-width="0.7" />
<line x1="404.20" y1="603.52" x2="408.20" y2="603.52" stroke="#90c8a8" stroke-width="0.8" />
<line x1="404.20" y1="615.47" x2="408.20" y2="615.47" stroke="#90c8a8" stroke-width="0.8" />
<line x1="438.99" y1="567.37" x2="438.99" y2="582.31" stroke="#90c8a8" stroke-width="0.7" />
<line x1="436.99" y1="567.37" x2="440.99" y2="567.37" stroke="#90c8a8" stroke-width="0.8" />
<line x1="436.99" y1="582.31" x2="440.99" y2="582.31" stroke="#90c8a8" stroke-width="0.8" />
<line x1="471.79" y1="536.60" x2="471.79" y2="553.33" stroke="#90c8a8" stroke-width="0.7" />
<line x1="469.79" y1="536.60" x2="473.79" y2="536.60" stroke="#90c8a8" stroke-width="0.8" />
<line x1="469.79" y1="553.33" x2="473.79" y2="553.33" stroke="#90c8a8" stroke-width="0.8" />
<line x1="504.58" y1="516.88" x2="504.58" y2="534.81" stroke="#90c8a8" stroke-width="0.7" />
<line x1="502.58" y1="516.88" x2="506.58" y2="516.88" stroke="#90c8a8" stroke-width="0.8" />
<line x1="502.58" y1="534.81" x2="506.58" y2="534.81" stroke="#90c8a8" stroke-width="0.8" />
<line x1="537.38" y1="503.14" x2="537.38" y2="522.26" stroke="#90c8a8" stroke-width="0.7" />
<line x1="535.38" y1="503.14" x2="539.38" y2="503.14" stroke="#90c8a8" stroke-width="0.8" />
<line x1="535.38" y1="522.26" x2="539.38" y2="522.26" stroke="#90c8a8" stroke-width="0.8" />
<line x1="570.18" y1="494.78" x2="570.18" y2="513.90" stroke="#90c8a8" stroke-width="0.7" />
<line x1="568.18" y1="494.78" x2="572.18" y2="494.78" stroke="#90c8a8" stroke-width="0.8" />
<line x1="568.18" y1="513.90" x2="572.18" y2="513.90" stroke="#90c8a8" stroke-width="0.8" />
<line x1="602.97" y1="486.41" x2="602.97" y2="507.32" stroke="#90c8a8" stroke-width="0.7" />
<line x1="600.97" y1="486.41" x2="604.97" y2="486.41" stroke="#90c8a8" stroke-width="0.8" />
<line x1="600.97" y1="507.32" x2="604.97" y2="507.32" stroke="#90c8a8" stroke-width="0.8" />
<line x1="635.77" y1="483.72" x2="635.77" y2="504.63" stroke="#90c8a8" stroke-width="0.7" />
<line x1="633.77" y1="483.72" x2="637.77" y2="483.72" stroke="#90c8a8" stroke-width="0.8" />
<line x1="633.77" y1="504.63" x2="637.77" y2="504.63" stroke="#90c8a8" stroke-width="0.8" />
<polyline points="373.40,656.40 378.87,640.27 389.80,623.84 406.20,603.52 438.99,568.27 471.79,538.69 504.58,518.68 537.38,505.23 570.18,494.18 602.97,488.50 635.77,485.81" fill="none" stroke="#4a4a4a" stroke-width="1.0"/>
<polyline points="373.40,656.40 378.87,635.79 389.80,622.34 406.20,608.30 438.99,577.23 471.79,547.06 504.58,527.04 537.38,513.60 570.18,504.93 602.97,497.76 635.77,495.67" fill="none" stroke="#ee3b3b" stroke-width="1.0"/>
<polyline points="373.40,656.40 378.87,639.07 389.80,627.72 406.20,612.78 438.99,579.32 471.79,551.54 504.58,532.42 537.38,521.96 570.18,513.90 602.97,507.92 635.77,504.93" fill="none" stroke="#2f6ee0" stroke-width="1.0"/>
<polyline points="373.40,656.40 378.87,637.58 389.80,625.03 406.20,609.50 438.99,574.84 471.79,544.97 504.58,525.85 537.38,512.70 570.18,504.34 602.97,496.87 635.77,494.18" fill="none" stroke="#2fa060" stroke-width="1.0"/>
<clipPath id="clip373"><rect x="373.00" y="411.42" width="283.30" height="245.58"/></clipPath>
<g clip-path="url(#clip373)">
<rect x="370.95" y="653.95" width="4.9" height="4.9" fill="#3d3d3d"/>
<rect x="376.42" y="637.82" width="4.9" height="4.9" fill="#3d3d3d"/>
<rect x="387.35" y="621.39" width="4.9" height="4.9" fill="#3d3d3d"/>
<rect x="403.75" y="601.07" width="4.9" height="4.9" fill="#3d3d3d"/>
<rect x="436.54" y="565.82" width="4.9" height="4.9" fill="#3d3d3d"/>
<rect x="469.34" y="536.24" width="4.9" height="4.9" fill="#3d3d3d"/>
<rect x="502.13" y="516.23" width="4.9" height="4.9" fill="#3d3d3d"/>
<rect x="534.93" y="502.78" width="4.9" height="4.9" fill="#3d3d3d"/>
<rect x="567.73" y="491.73" width="4.9" height="4.9" fill="#3d3d3d"/>
<rect x="600.52" y="486.05" width="4.9" height="4.9" fill="#3d3d3d"/>
<rect x="633.32" y="483.36" width="4.9" height="4.9" fill="#3d3d3d"/>
<circle cx="373.40" cy="656.40" r="2.8" fill="#ee3a3a"/>
<circle cx="378.87" cy="635.79" r="2.8" fill="#ee3a3a"/>
<circle cx="389.80" cy="622.34" r="2.8" fill="#ee3a3a"/>
<circle cx="406.20" cy="608.30" r="2.8" fill="#ee3a3a"/>
<circle cx="438.99" cy="577.23" r="2.8" fill="#ee3a3a"/>
<circle cx="471.79" cy="547.06" r="2.8" fill="#ee3a3a"/>
<circle cx="504.58" cy="527.04" r="2.8" fill="#ee3a3a"/>
<circle cx="537.38" cy="513.60" r="2.8" fill="#ee3a3a"/>
<circle cx="570.18" cy="504.93" r="2.8" fill="#ee3a3a"/>
<circle cx="602.97" cy="497.76" r="2.8" fill="#ee3a3a"/>
<circle cx="635.77" cy="495.67" r="2.8" fill="#ee3a3a"/>
<path d="M373.40,653.20 L376.40,658.50 L370.40,658.50 Z" fill="#2563d8"/>
<path d="M378.87,635.87 L381.87,641.17 L375.87,641.17 Z" fill="#2563d8"/>
<path d="M389.80,624.52 L392.80,629.82 L386.80,629.82 Z" fill="#2563d8"/>
<path d="M406.20,609.58 L409.20,614.88 L403.20,614.88 Z" fill="#2563d8"/>
<path d="M438.99,576.12 L441.99,581.42 L435.99,581.42 Z" fill="#2563d8"/>
<path d="M471.79,548.34 L474.79,553.64 L468.79,553.64 Z" fill="#2563d8"/>
<path d="M504.58,529.22 L507.58,534.52 L501.58,534.52 Z" fill="#2563d8"/>
<path d="M537.38,518.76 L540.38,524.06 L534.38,524.06 Z" fill="#2563d8"/>
<path d="M570.18,510.70 L573.18,516.00 L567.18,516.00 Z" fill="#2563d8"/>
<path d="M602.97,504.72 L605.97,510.02 L599.97,510.02 Z" fill="#2563d8"/>
<path d="M635.77,501.73 L638.77,507.03 L632.77,507.03 Z" fill="#2563d8"/>
<path d="M373.40,659.60 L376.40,654.30 L370.40,654.30 Z" fill="#2a9a5a"/>
<path d="M378.87,640.78 L381.87,635.48 L375.87,635.48 Z" fill="#2a9a5a"/>
<path d="M389.80,628.23 L392.80,622.93 L386.80,622.93 Z" fill="#2a9a5a"/>
<path d="M406.20,612.70 L409.20,607.40 L403.20,607.40 Z" fill="#2a9a5a"/>
<path d="M438.99,578.04 L441.99,572.74 L435.99,572.74 Z" fill="#2a9a5a"/>
<path d="M471.79,548.17 L474.79,542.87 L468.79,542.87 Z" fill="#2a9a5a"/>
<path d="M504.58,529.05 L507.58,523.75 L501.58,523.75 Z" fill="#2a9a5a"/>
<path d="M537.38,515.90 L540.38,510.60 L534.38,510.60 Z" fill="#2a9a5a"/>
<path d="M570.18,507.54 L573.18,502.24 L567.18,502.24 Z" fill="#2a9a5a"/>
<path d="M602.97,500.07 L605.97,494.77 L599.97,494.77 Z" fill="#2a9a5a"/>
<path d="M635.77,497.38 L638.77,492.08 L632.77,492.08 Z" fill="#2a9a5a"/>
</g>
<line x1="383.90" y1="424.20" x2="404.40" y2="424.20" stroke="#4a4a4a" stroke-width="1.0" />
<rect x="391.70" y="421.75" width="4.9" height="4.9" fill="#3d3d3d"/>
<text x="406.20" y="426.90" font-size="8.7" font-weight="bold" text-anchor="start" fill="#000" >CON</text>
<line x1="383.90" y1="435.00" x2="404.40" y2="435.00" stroke="#ee3b3b" stroke-width="1.0" />
<circle cx="394.15" cy="435.00" r="2.8" fill="#ee3a3a"/>
<text x="406.20" y="437.70" font-size="8.7" font-weight="bold" text-anchor="start" fill="#000" >LP</text>
<line x1="383.90" y1="446.40" x2="404.40" y2="446.40" stroke="#2f6ee0" stroke-width="1.0" />
<path d="M394.15,443.20 L397.15,448.50 L391.15,448.50 Z" fill="#2563d8"/>
<text x="406.20" y="449.10" font-size="8.7" font-weight="bold" text-anchor="start" fill="#000" >CEL</text>
<line x1="383.90" y1="457.60" x2="404.40" y2="457.60" stroke="#2fa060" stroke-width="1.0" />
<path d="M394.15,460.80 L397.15,455.50 L391.15,455.50 Z" fill="#2a9a5a"/>
<text x="406.20" y="460.30" font-size="8.7" font-weight="bold" text-anchor="start" fill="#000" >LP_CEL</text>
</svg>
</body></html>
